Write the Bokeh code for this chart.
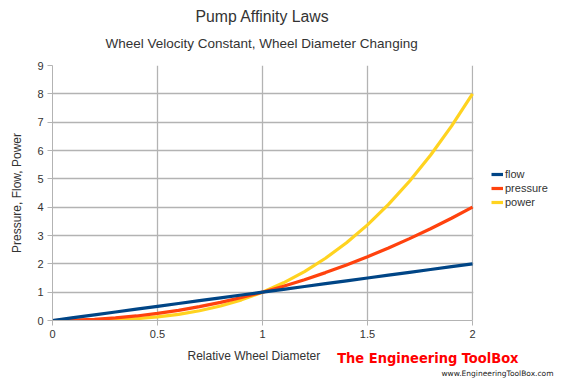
from bokeh.plotting import figure
from bokeh.models import Range1d, Legend, LegendItem, Title, FixedTicker, BoxAnnotation
from bokeh.embed import file_html
from bokeh.resources import INLINE

diameter = [0.0, 0.1, 0.2, 0.3, 0.4, 0.5, 0.6, 0.7, 0.8, 0.9, 1.0,
            1.1, 1.2, 1.3, 1.4, 1.5, 1.6, 1.7, 1.8, 1.9, 2.0]
flow = [0.0, 0.1, 0.2, 0.3, 0.4, 0.5, 0.6, 0.7, 0.8, 0.9, 1.0,
        1.1, 1.2, 1.3, 1.4, 1.5, 1.6, 1.7, 1.8, 1.9, 2.0]
pressure = [0.0, 0.01, 0.04, 0.09, 0.16, 0.25, 0.36, 0.49, 0.64, 0.81, 1.0,
            1.21, 1.44, 1.69, 1.96, 2.25, 2.56, 2.89, 3.24, 3.61, 4.0]
power = [0.0, 0.001, 0.008, 0.027, 0.064, 0.125, 0.216, 0.343, 0.512, 0.729, 1.0,
         1.331, 1.728, 2.197, 2.744, 3.375, 4.096, 4.913, 5.832, 6.859, 8.0]
x_ticks = [0, 0.5, 1, 1.5, 2]
y_ticks = [0, 1, 2, 3, 4, 5, 6, 7, 8, 9]

FONT = "Liberation Sans"
TXT = "#333333"
GRID = "#b3b3b3"

# frame spans to the right edge; x=2 lands at 472px
x_end = 516 / 210.0

p = figure(width=568, height=379, output_backend="svg", toolbar_location=None,
           x_range=Range1d(0, x_end), y_range=Range1d(0, 9),
           min_border_left=52, min_border_right=0, min_border_top=65, min_border_bottom=59)
p.outline_line_color = None
p.background_fill_color = "white"
p.border_fill_color = "white"

p.title.text = "Pump Affinity Laws"
p.title.align = "left"
p.title.offset = 143
p.title.standoff = -12
p.title.text_font = FONT
p.title.text_font_size = "15.8px"
p.title.text_font_style = "normal"
p.title.text_color = TXT
p.add_layout(Title(text="Wheel Velocity Constant, Wheel Diameter Changing", align="left",
                   offset=53, standoff=30,
                   text_font=FONT, text_font_size="13.5px", text_font_style="normal",
                   text_color=TXT), "above")

for ax in (p.xaxis[0], p.yaxis[0]):
    ax.axis_line_color = GRID
    ax.major_tick_line_color = GRID
    ax.minor_tick_line_color = None
    ax.major_tick_out = 5
    ax.major_tick_in = 0
    ax.major_label_text_font = FONT
    ax.major_label_text_font_size = "11px"
    ax.major_label_text_color = TXT
    ax.axis_label_text_font = FONT
    ax.axis_label_text_font_size = "12px"
    ax.axis_label_text_font_style = "normal"
    ax.axis_label_text_color = TXT
p.xaxis.ticker = FixedTicker(ticks=x_ticks)
p.yaxis.ticker = FixedTicker(ticks=y_ticks)
p.xaxis.bounds = (0, 2)
p.yaxis.axis_label = "Pressure, Flow, Power"
p.xaxis.major_label_standoff = 4
p.yaxis.major_label_standoff = 4
p.yaxis.axis_label_standoff = 10

p.xgrid.ticker = FixedTicker(ticks=x_ticks)
p.ygrid.ticker = FixedTicker(ticks=y_ticks)
p.grid.grid_line_color = GRID
p.grid.grid_line_width = 1.3

# mask the grid to the right of x=2
p.add_layout(BoxAnnotation(left=2.004, fill_color="white", fill_alpha=1.0,
                           line_color=None, level="underlay"))

r_power = p.line(diameter, power, line_color="#ffd320", line_width=3.2)
r_pressure = p.line(diameter, pressure, line_color="#ff420e", line_width=3.2)
r_flow = p.line(diameter, flow, line_color="#004586", line_width=3.2)

legend = Legend(items=[LegendItem(label="flow", renderers=[r_flow]),
                       LegendItem(label="pressure", renderers=[r_pressure]),
                       LegendItem(label="power", renderers=[r_power])],
                location=(439, 112), orientation="vertical",
                label_text_font=FONT, label_text_font_size="11px", label_text_color=TXT,
                glyph_width=12, glyph_height=10, label_height=10, spacing=2,
                label_standoff=2, padding=0, margin=0,
                border_line_color=None, background_fill_alpha=0)
p.add_layout(legend, "center")

# x axis title, then web address, then logo text (stacked below the axis)
p.add_layout(Title(text="Relative Wheel Diameter", align="left", vertical_align="top",
                   offset=135, standoff=16, text_font=FONT, text_font_size="12px",
                   text_font_style="normal", text_color=TXT), "below")
p.add_layout(Title(text="www.EngineeringToolBox.com", align="right", vertical_align="top",
                   offset=15, standoff=-8, text_font="DejaVu Sans", text_font_size="7.5px",
                   text_font_style="normal", text_color="#222222"), "below")
p.add_layout(Title(text="The Engineering ToolBox", align="right", vertical_align="top",
                   offset=50, standoff=-52, text_font="DejaVu Sans Condensed",
                   text_font_style="bold", text_font_size="14.5px", text_color="#ff0000"), "below")

open("out.html", "w").write(file_html(p, INLINE))
